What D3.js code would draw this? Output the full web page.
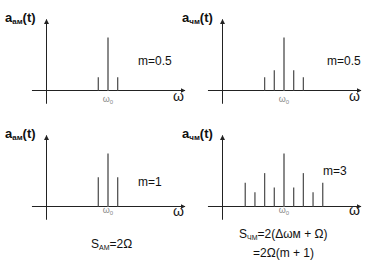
<!DOCTYPE html>
<html><head><meta charset="utf-8">
<script src="https://cdn.jsdelivr.net/npm/d3@7"></script>
<style>
html,body{margin:0;padding:0;background:#fff;}
svg{display:block;font-family:"Liberation Sans",Arial,sans-serif;}
</style></head>
<body><div id="chart"></div>
<script>
// ---- data ----
const panelNames = ["ам", "чм", "ам", "чм"];
const modLabels = ["m=0.5", "m=0.5", "m=1", "m=3"];
const amTopOffsets = [-1, 0, 1];
const amTopAmps = [0.25, 1, 0.25];
const fmTopOffsets = [-2, -1, 0, 1, 2];
const fmTopAmps = [0.25, 0.38, 1, 0.38, 0.25];
const amBottomOffsets = [-1, 0, 1];
const amBottomAmps = [0.55, 1, 0.55];
const fmBottomOffsets = [-4, -3, -2, -1, 0, 1, 2, 3, 4];
const fmBottomAmps = [0.45, 0.27, 0.63, 0.36, 1, 0.36, 0.63, 0.27, 0.45];
const carrier = 6.4;          // ω0 position, in units of Ω
const xDomain = [-1.45, 14.35];
const yDomain = [-0.25, 1.34];

const W = 367, H = 266;
const svg = d3.select("#chart").append("svg").attr("width", W).attr("height", H);

const defs = svg.append("defs");
defs.append("marker").attr("id", "arr").attr("viewBox", "0 0 10 10")
  .attr("refX", 9).attr("refY", 5).attr("markerWidth", 5).attr("markerHeight", 5)
  .attr("markerUnits", "userSpaceOnUse").attr("orient", "auto")
  .append("path").attr("d", "M0,0L10,5L0,10Z").attr("fill", "#222");

const layouts = [
  {ox: 46, oy: 90.5, offsets: amTopOffsets, amps: amTopAmps, lx: 5, ly: 22, mx: 138, my: 65, w0: 102, wy: 101},
  {ox: 222, oy: 90.5, offsets: fmTopOffsets, amps: fmTopAmps, lx: 182, ly: 22, mx: 327, my: 65, w0: 102, wy: 101},
  {ox: 46, oy: 206.5, offsets: amBottomOffsets, amps: amBottomAmps, lx: 5, ly: 138, mx: 138, my: 186, w0: 213, wy: 216},
  {ox: 222, oy: 206.5, offsets: fmBottomOffsets, amps: fmBottomAmps, lx: 182, ly: 138, mx: 323, my: 175, w0: 213, wy: 215}
];

layouts.forEach((p, i) => {
  const x = d3.scaleLinear().domain([0, 14.35]).range([p.ox, p.ox + 139]);
  const y = d3.scaleLinear().domain([0, 1]).range([p.oy, p.oy - 53]);
  const g = svg.append("g");

  // x axis
  g.append("line").attr("x1", x(xDomain[0])).attr("x2", x(xDomain[1]))
    .attr("y1", y(0)).attr("y2", y(0)).attr("stroke", "#222").attr("stroke-width", 1)
    .attr("marker-end", "url(#arr)");
  // y axis
  g.append("line").attr("x1", x(0) + 0.5).attr("x2", x(0) + 0.5)
    .attr("y1", y(yDomain[0])).attr("y2", y(yDomain[1])).attr("stroke", "#222").attr("stroke-width", 1)
    .attr("marker-end", "url(#arr)");

  // spectral lines
  const data = p.offsets.map((o, k) => ({f: carrier + o, a: p.amps[k], c: o === 0}));
  g.selectAll(".bar").data(data).enter().append("line")
    .attr("x1", d => x(d.f)).attr("x2", d => x(d.f))
    .attr("y1", y(0)).attr("y2", d => y(d.a))
    .attr("stroke", d => d.c ? "#8a8a8a" : "#555")
    .attr("stroke-width", d => d.c ? 2 : 1.3);

  // ω0 label
  const t0 = g.append("text").attr("x", x(carrier)).attr("y", p.w0)
    .attr("text-anchor", "middle").attr("fill", "#888").attr("font-size", 9);
  t0.append("tspan").text("ω");
  t0.append("tspan").attr("font-size", 6).attr("dy", 1.5).text("0");

  // ω axis label
  g.append("text").attr("x", x(xDomain[1]) - 12).attr("y", p.wy)
    .attr("font-size", 14).attr("fill", "#111").text("ω");

  // y label
  const tl = g.append("text").attr("x", p.lx).attr("y", p.ly)
    .attr("font-size", 13).attr("font-weight", "bold").attr("fill", "#111");
  tl.append("tspan").text("a");
  tl.append("tspan").attr("font-size", 8).attr("dy", 2).text(panelNames[i]);
  tl.append("tspan").attr("dy", -2).text("(t)");

  // m label
  g.append("text").attr("x", p.mx).attr("y", p.my).attr("font-size", 12)
    .attr("fill", "#111").text(modLabels[i]);
});

// bandwidth formulas
const s1 = svg.append("text").attr("x", 91).attr("y", 248).attr("font-size", 12).attr("fill", "#111");
s1.append("tspan").text("S");
s1.append("tspan").attr("font-size", 7).attr("dy", 2).text("AM");
s1.append("tspan").attr("dy", -2).text("=2Ω");

const s2 = svg.append("text").attr("x", 239).attr("y", 238).attr("font-size", 12).attr("fill", "#111");
s2.append("tspan").text("S");
s2.append("tspan").attr("font-size", 7).attr("dy", 2).text("ЧМ");
s2.append("tspan").attr("dy", -2).text("=2(Δωм + Ω)");

svg.append("text").attr("x", 253).attr("y", 257).attr("font-size", 12).attr("fill", "#111")
  .text("=2Ω(m + 1)");
</script></body></html>
